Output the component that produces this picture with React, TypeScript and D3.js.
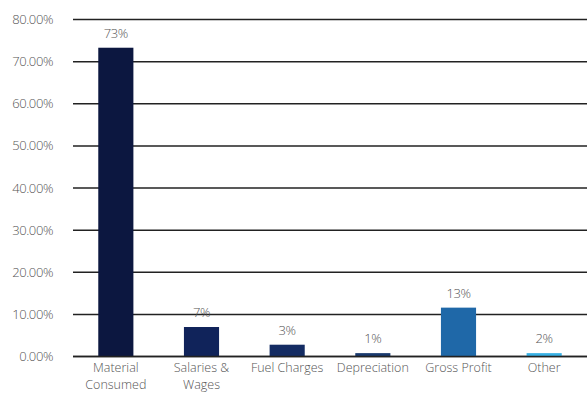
import React from "react";
import * as d3 from "d3";

const categories = [["Material", "Consumed"], ["Salaries &", "Wages"], ["Fuel Charges"], ["Depreciation"], ["Gross Profit"], ["Other"]];
const values = [73.3, 7.0, 2.8, 0.8, 11.6, 0.8];
const valueLabels = ["73%", "7%", "3%", "1%", "13%", "2%"];
const colors = ["#0c1740", "#10235a", "#142c63", "#19396d", "#1f68a8", "#38b0e4"];
const yTicks = [0, 10, 20, 30, 40, 50, 60, 70, 80];

export default function App() {
  const W = 587, H = 399;
  const x = d3.scaleBand<number>().domain(d3.range(categories.length)).range([73, 587]).paddingInner(0.59).paddingOuter(0.295);
  const y = d3.scaleLinear().domain([0, 80]).range([356.5, 19.5]);
  const font = "'Open Sans', sans-serif";
  return (
    <svg width={W} height={H} style={{ position: "absolute", left: 0, top: 0, background: "#fff" }}>
      {yTicks.map((t) => (
        <g key={t}>
          <line x1={73} x2={587} y1={y(t)} y2={y(t)} stroke="#222" strokeWidth={1.5} />
          <text x={53} y={y(t) + 4.5} textAnchor="end" fontFamily={font} fontSize={13} fontWeight={300} fill="#555" letterSpacing={-0.4}>
            {t.toFixed(2) + "%"}
          </text>
        </g>
      ))}
      {values.map((v, i) => (
        <g key={i}>
          <rect x={x(i)} y={y(v)} width={x.bandwidth()} height={y(0) - y(v)} fill={colors[i]} />
          <text x={(x(i) as number) + x.bandwidth() / 2} y={y(v) - 10} textAnchor="middle" fontFamily={font} fontSize={13} fontWeight={300} fill="#555" letterSpacing={-0.4}>
            {valueLabels[i]}
          </text>
          {categories[i].map((line, j) => (
            <text key={j} x={(x(i) as number) + x.bandwidth() / 2} y={372 + j * 17} textAnchor="middle" fontFamily={font} fontSize={12.5} fontWeight={300} fill="#555" letterSpacing={0}>
              {line}
            </text>
          ))}
        </g>
      ))}
      <line x1={73} x2={587} y1={y(0)} y2={y(0)} stroke="#222" strokeWidth={1.6} />
    </svg>
  );
}
